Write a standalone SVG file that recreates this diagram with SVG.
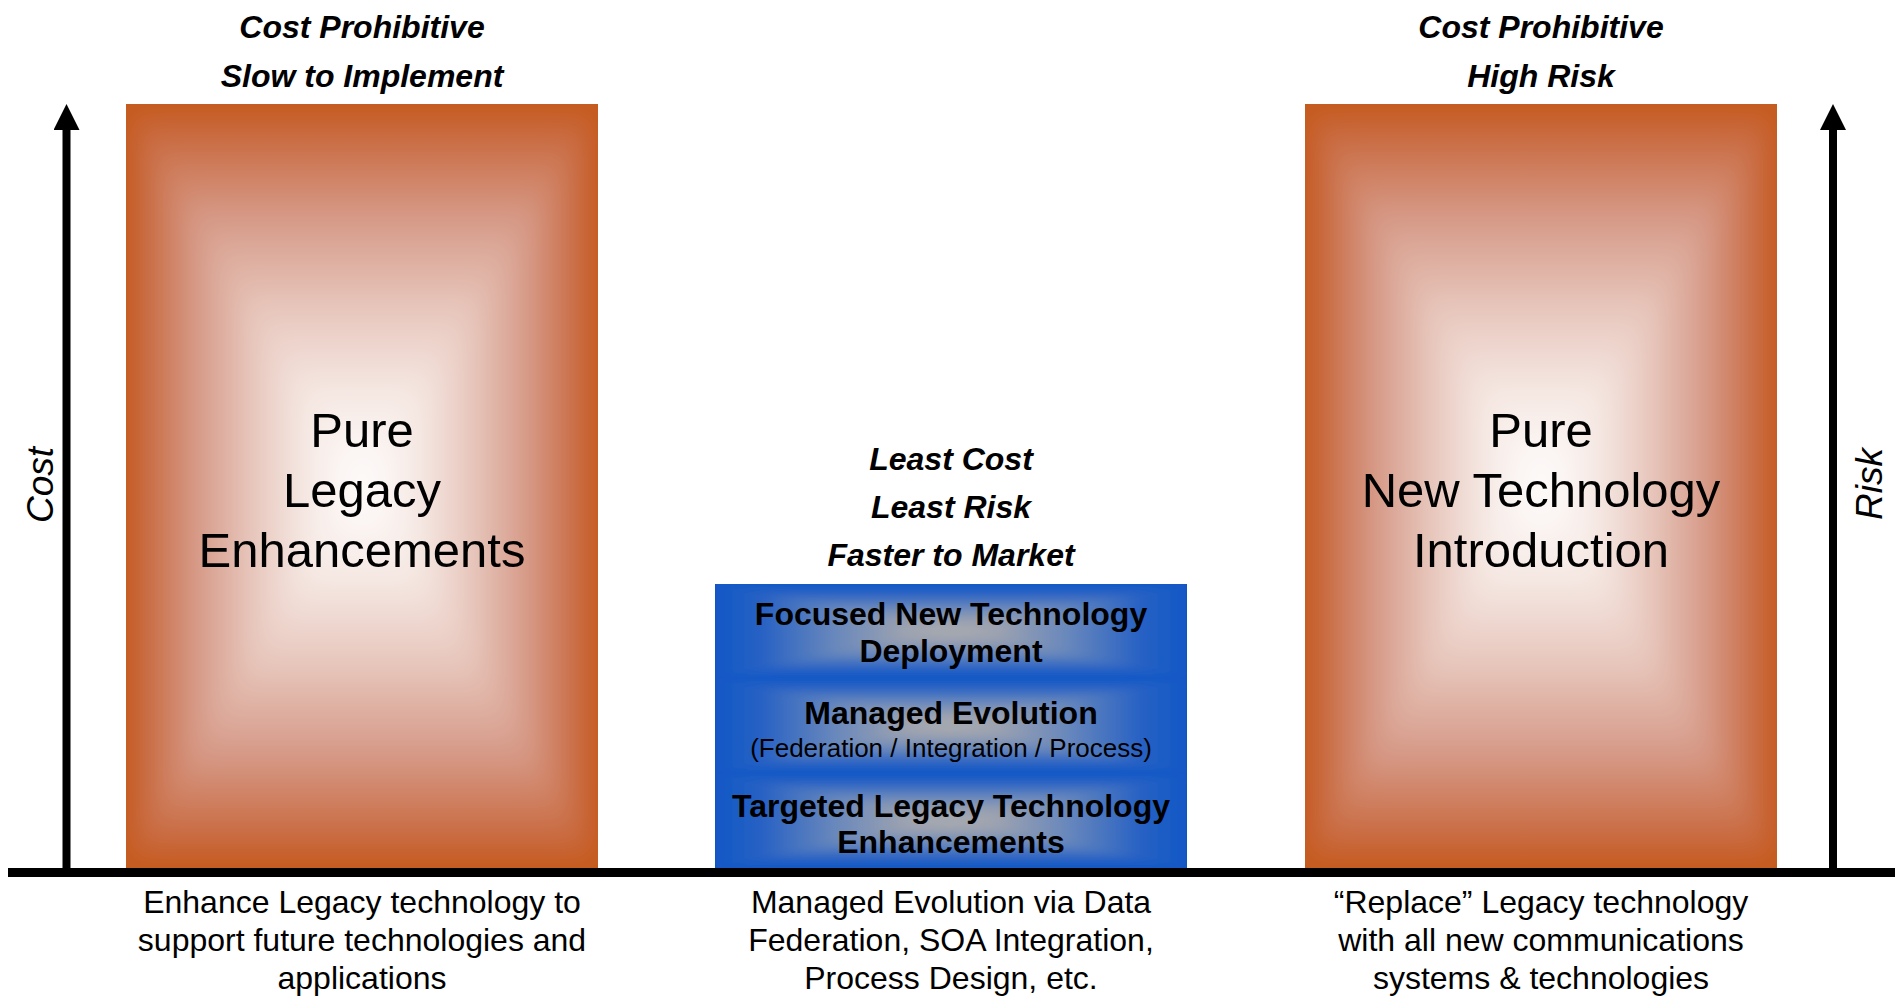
<svg xmlns="http://www.w3.org/2000/svg" width="1902" height="1005" viewBox="0 0 1902 1005">
  <style>
    .hdr { font-family: "Liberation Sans", Arial, sans-serif; font-style: italic; font-weight: bold; font-size: 32px; text-anchor: middle; fill: #000; }
    .lbl { font-family: "Liberation Sans", Arial, sans-serif; font-size: 49px; text-anchor: middle; fill: #000; }
    .band { font-family: "Liberation Sans", Arial, sans-serif; font-weight: bold; font-size: 32px; text-anchor: middle; fill: #000; }
    .sub { font-family: "Liberation Sans", Arial, sans-serif; font-size: 26px; text-anchor: middle; fill: #000; }
    .desc { font-family: "Liberation Sans", Arial, sans-serif; font-size: 32px; text-anchor: middle; fill: #000; }
    .axis { font-family: "Liberation Sans", Arial, sans-serif; font-style: italic; font-size: 37px; text-anchor: middle; fill: #000; }
    .axisline { stroke: #000; stroke-width: 8; fill: none; marker-end: url(#head); }
  </style>
  <defs>
    <marker id="head" viewBox="0 0 26 26" refX="0" refY="13" markerWidth="26" markerHeight="26" markerUnits="userSpaceOnUse" orient="auto">
      <path d="M0,0 L26,13 L0,26 Z" fill="#000"/>
    </marker>
    <filter id="softO" x="-10%" y="-10%" width="120%" height="120%">
      <feGaussianBlur stdDeviation="12"/>
    </filter>
    <filter id="softB" x="-10%" y="-20%" width="120%" height="140%">
      <feGaussianBlur stdDeviation="4"/>
    </filter>
    <clipPath id="clipLeft"><rect x="126" y="104" width="472" height="764"/></clipPath>
    <clipPath id="clipRight"><rect x="1305" y="104" width="472" height="764"/></clipPath>
    <clipPath id="clipB1"><rect x="715" y="584" width="472" height="94"/></clipPath>
    <clipPath id="clipB2"><rect x="715" y="678" width="472" height="95"/></clipPath>
    <clipPath id="clipB3"><rect x="715" y="773" width="472" height="95"/></clipPath>
    <linearGradient id="oT" x1="0" y1="0" x2="0" y2="1">
      <stop offset="0" stop-color="#C55A1A"/>
      <stop offset="0.08" stop-color="#C96A40"/>
      <stop offset="0.3" stop-color="#D69A88"/>
      <stop offset="0.55" stop-color="#E8C9BF"/>
      <stop offset="0.75" stop-color="#F5E7E2"/>
      <stop offset="1" stop-color="#FFFFFF"/>
    </linearGradient>
    <linearGradient id="oB" href="#oT" x1="0" y1="1" x2="0" y2="0"/>
    <linearGradient id="oL" href="#oT" x1="0" y1="0" x2="1" y2="0"/>
    <linearGradient id="oR" href="#oT" x1="1" y1="0" x2="0" y2="0"/>
    <linearGradient id="bT" x1="0" y1="0" x2="0" y2="1">
      <stop offset="0" stop-color="#1157C6"/>
      <stop offset="0.2" stop-color="#2862C4"/>
      <stop offset="0.5" stop-color="#6787BC"/>
      <stop offset="0.8" stop-color="#9CA2B0"/>
      <stop offset="1" stop-color="#AEAEAE"/>
    </linearGradient>
    <linearGradient id="bB" href="#bT" x1="0" y1="1" x2="0" y2="0"/>
    <linearGradient id="bL" href="#bT" x1="0" y1="0" x2="1" y2="0"/>
    <linearGradient id="bR" href="#bT" x1="1" y1="0" x2="0" y2="0"/>
  </defs>

  <g id="legacy-box">
    <text class="hdr" x="362" y="38">Cost Prohibitive</text>
    <text class="hdr" x="362" y="87">Slow to Implement</text>
    <g clip-path="url(#clipLeft)">
      <g filter="url(#softO)">
        <rect x="86" y="64" width="552" height="844" fill="#C55A1A"/>
        <polygon points="126,104 598,104 362,486" fill="url(#oT)"/>
        <polygon points="126,868 598,868 362,486" fill="url(#oB)"/>
        <polygon points="126,104 126,868 362,486" fill="url(#oL)"/>
        <polygon points="598,104 598,868 362,486" fill="url(#oR)"/>
      </g>
    </g>
    <text class="lbl" x="362" y="447">Pure</text>
    <text class="lbl" x="362" y="507">Legacy</text>
    <text class="lbl" x="362" y="567">Enhancements</text>
    <text class="desc" x="362" y="913">Enhance Legacy technology to</text>
    <text class="desc" x="362" y="951">support future technologies and</text>
    <text class="desc" x="362" y="989">applications</text>
  </g>

  <g id="managed-stack">
    <text class="hdr" x="951" y="470">Least Cost</text>
    <text class="hdr" x="951" y="518">Least Risk</text>
    <text class="hdr" x="951" y="566">Faster to Market</text>
    <g id="band-focused">
      <g clip-path="url(#clipB1)">
        <g filter="url(#softB)">
          <rect x="695" y="564" width="512" height="134" fill="#1157C6"/>
          <polygon points="715,584 1187,584 951,631" fill="url(#bT)"/>
          <polygon points="715,678 1187,678 951,631" fill="url(#bB)"/>
          <polygon points="715,584 715,678 951,631" fill="url(#bL)"/>
          <polygon points="1187,584 1187,678 951,631" fill="url(#bR)"/>
        </g>
      </g>
      <text class="band" x="951" y="625">Focused New Technology</text>
      <text class="band" x="951" y="662">Deployment</text>
    </g>
    <g id="band-managed">
      <g clip-path="url(#clipB2)">
        <g filter="url(#softB)">
          <rect x="695" y="658" width="512" height="135" fill="#1157C6"/>
          <polygon points="715,678 1187,678 951,725.5" fill="url(#bT)"/>
          <polygon points="715,773 1187,773 951,725.5" fill="url(#bB)"/>
          <polygon points="715,678 715,773 951,725.5" fill="url(#bL)"/>
          <polygon points="1187,678 1187,773 951,725.5" fill="url(#bR)"/>
        </g>
      </g>
      <text class="band" x="951" y="724">Managed Evolution</text>
      <text class="sub" x="951" y="757">(Federation / Integration / Process)</text>
    </g>
    <g id="band-targeted">
      <g clip-path="url(#clipB3)">
        <g filter="url(#softB)">
          <rect x="695" y="753" width="512" height="135" fill="#1157C6"/>
          <polygon points="715,773 1187,773 951,820.5" fill="url(#bT)"/>
          <polygon points="715,868 1187,868 951,820.5" fill="url(#bB)"/>
          <polygon points="715,773 715,868 951,820.5" fill="url(#bL)"/>
          <polygon points="1187,773 1187,868 951,820.5" fill="url(#bR)"/>
        </g>
      </g>
      <text class="band" x="951" y="817">Targeted Legacy Technology</text>
      <text class="band" x="951" y="853">Enhancements</text>
    </g>
    <text class="desc" x="951" y="913">Managed Evolution via Data</text>
    <text class="desc" x="951" y="951">Federation, SOA Integration,</text>
    <text class="desc" x="951" y="989">Process Design, etc.</text>
  </g>

  <g id="newtech-box">
    <text class="hdr" x="1541" y="38">Cost Prohibitive</text>
    <text class="hdr" x="1541" y="87">High Risk</text>
    <g clip-path="url(#clipRight)">
      <g filter="url(#softO)">
        <rect x="1265" y="64" width="552" height="844" fill="#C55A1A"/>
        <polygon points="1305,104 1777,104 1541,486" fill="url(#oT)"/>
        <polygon points="1305,868 1777,868 1541,486" fill="url(#oB)"/>
        <polygon points="1305,104 1305,868 1541,486" fill="url(#oL)"/>
        <polygon points="1777,104 1777,868 1541,486" fill="url(#oR)"/>
      </g>
    </g>
    <text class="lbl" x="1541" y="447">Pure</text>
    <text class="lbl" x="1541" y="507">New Technology</text>
    <text class="lbl" x="1541" y="567">Introduction</text>
    <text class="desc" x="1541" y="913">“Replace” Legacy technology</text>
    <text class="desc" x="1541" y="951">with all new communications</text>
    <text class="desc" x="1541" y="989">systems &amp; technologies</text>
  </g>

  <g id="connectors">
    <line class="axisline" x1="66.5" y1="868" x2="66.5" y2="130"/>
    <line class="axisline" x1="1833" y1="868" x2="1833" y2="130"/>
    <rect x="8" y="868" width="1887" height="9" fill="#000"/>
  </g>

  <g id="axis-labels">
    <text class="axis" x="53" y="485" transform="rotate(-90 53 485)">Cost</text>
    <text class="axis" x="1882" y="484" transform="rotate(-90 1882 484)">Risk</text>
  </g>
</svg>
